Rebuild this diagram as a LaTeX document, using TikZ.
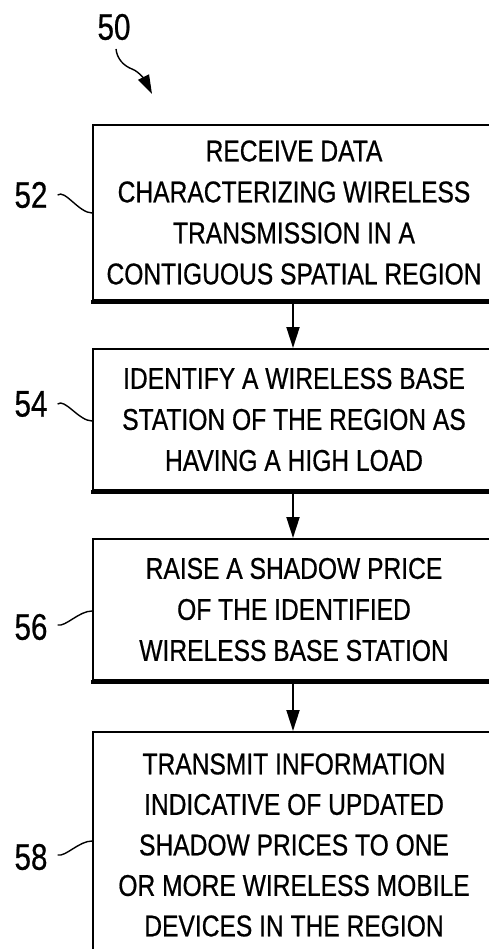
\documentclass[tikz,border=0pt]{standalone}
\usepackage{fontspec}
\setmainfont{Liberation Sans}[FakeStretch=0.82,FakeBold=0.6]
\newfontfamily\refnumfont{Liberation Sans}[FakeStretch=0.8,FakeBold=0.6]
\usetikzlibrary{arrows.meta}

\tikzset{
  flowbox/.style={draw, line width=2pt, minimum width=420pt, inner sep=0pt,
    align=center, font=\fontsize{30}{41}\selectfont},
  refnum/.style={inner sep=0pt, font=\refnumfont\fontsize{37}{37}\selectfont},
  flowarrow/.style={line width=2pt, -{Triangle[length=21pt,width=13pt]}},
  leader/.style={line width=1.4pt},
  shadowedge/.style={line width=4pt}
}

\begin{document}
\begin{tikzpicture}[x=1pt, y=-1pt]
  % page frame; the boxes run off the right and bottom edges of the sheet
  \fill[white] (0,0) rectangle (489,949);
  \useasboundingbox (0,0) rectangle (489,949);
  \clip (0,0) rectangle (489,949);

  % process steps (text centred on x = 293)
  \node[flowbox, minimum height=175pt, anchor=west] (b52) at (92,212.5)
    {\hspace*{1pt}\raisebox{-4pt}{\parbox{400pt}{\centering RECEIVE DATA\\CHARACTERIZING WIRELESS\\TRANSMISSION IN A\\CONTIGUOUS SPATIAL REGION}}\hspace*{19pt}};
  \node[flowbox, minimum height=141pt, anchor=west] (b54) at (92,419.5)
    {\hspace*{1pt}\parbox{400pt}{\centering IDENTIFY A WIRELESS BASE\\STATION OF THE REGION AS\\HAVING A HIGH LOAD}\hspace*{19pt}};
  \node[flowbox, minimum height=141pt, anchor=west] (b56) at (92,609.5)
    {\hspace*{1pt}\parbox{400pt}{\centering RAISE A SHADOW PRICE\\OF THE IDENTIFIED\\WIRELESS BASE STATION}\hspace*{19pt}};
  \node[flowbox, minimum height=226pt, anchor=north west, font=\fontsize{30}{40.5}\selectfont] (b58) at (92,731)
    {\hspace*{1pt}\parbox{400pt}{\centering TRANSMIT INFORMATION\\INDICATIVE OF UPDATED\\SHADOW PRICES TO ONE\\OR MORE WIRELESS MOBILE\\DEVICES IN THE REGION}\hspace*{19pt}};

  % heavier lower edges
  \foreach \b in {b52,b54,b56}
    \draw[shadowedge] ([xshift=-1pt,yshift=-1pt]\b.south west) -- ([yshift=-1pt]\b.south east);

  % connectors between steps
  \coordinate (ax) at (293,0);
  \draw[flowarrow] (b52.south -| ax) -- (b54.north -| ax);
  \draw[flowarrow] (b54.south -| ax) -- (b56.north -| ax);
  \draw[flowarrow] (b56.south -| ax) -- (b58.north -| ax);

  % reference numerals
  \node[refnum] (l50) at (114,27) {50};
  \node[refnum] (l52) at (31,195) {52};
  \node[refnum] (l54) at (31,404) {54};
  \node[refnum] (l56) at (31,627) {56};
  \node[refnum] (l58) at (31,857) {58};

  % overall arrow of the flow
  \coordinate (s50) at (116,49);
  \coordinate (t50) at (152,94);
  \draw[line width=1.4pt, -{Triangle[length=19pt,width=12pt]}]
    (s50) .. controls +(1,10) and +(-8,-3) .. (132,69)
    .. controls +(8,3) and +(-6,-12) .. (t50);

  % leader lines
  \coordinate (e52) at (92,213);
  \coordinate (e54) at (92,421);
  \coordinate (e56) at (92,611);
  \coordinate (e58) at (92,841);
  \draw[leader] ([xshift=10pt]l52.east) .. controls +(7,-6) and +(-13,0) .. (e52);
  \draw[leader] ([xshift=10pt]l54.east) .. controls +(7,-6) and +(-13,0) .. (e54);
  \draw[leader] ([xshift=10pt,yshift=2pt]l56.east) .. controls +(8,2) and +(-13,0) .. (e56);
  \draw[leader] ([xshift=10pt,yshift=2pt]l58.east) .. controls +(8,2) and +(-13,0) .. (e58);
\end{tikzpicture}
\end{document}
